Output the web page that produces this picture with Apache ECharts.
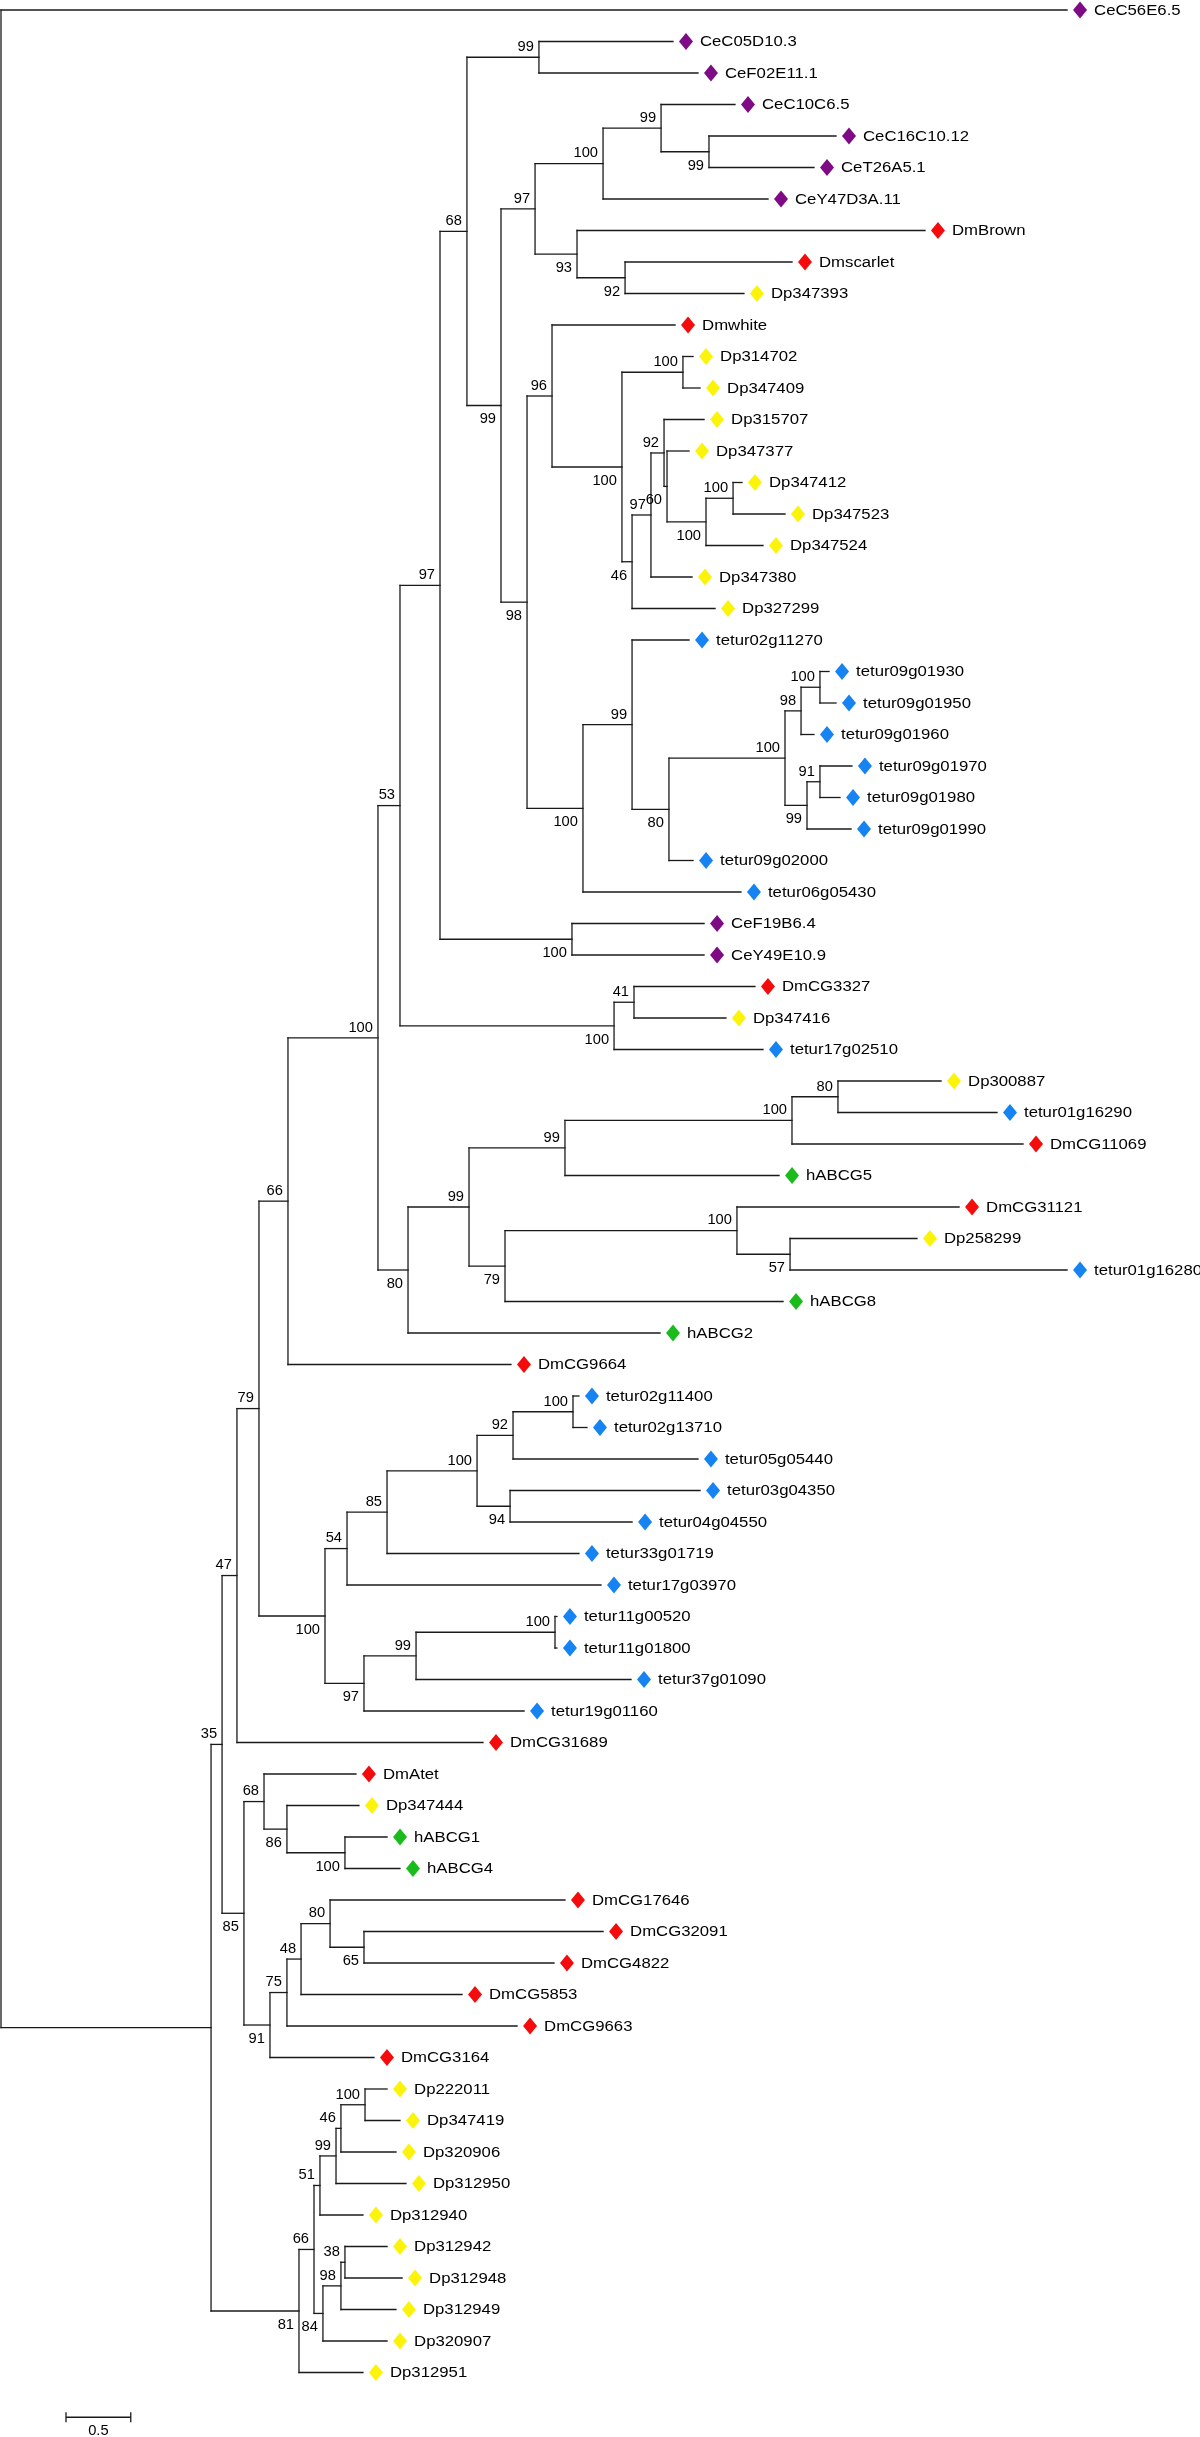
<!DOCTYPE html>
<html>
<head>
<meta charset="utf-8">
<script src="https://cdn.jsdelivr.net/npm/echarts@6/dist/echarts.min.js"></script>
<style>
html,body{margin:0;padding:0;background:#fff;}
#chart{width:1200px;height:2437px;}
</style>
</head>
<body>
<div id="chart"></div>
<script>
// ---- Leaves (tip name and distance from root, in substitutions/site) ----
const leafNames = [
  'CeC56E6.5','CeC05D10.3','CeF02E11.1','CeC10C6.5','CeC16C10.12','CeT26A5.1','CeY47D3A.11',
  'DmBrown','Dmscarlet','Dp347393','Dmwhite','Dp314702','Dp347409','Dp315707','Dp347377',
  'Dp347412','Dp347523','Dp347524','Dp347380','Dp327299','tetur02g11270','tetur09g01930',
  'tetur09g01950','tetur09g01960','tetur09g01970','tetur09g01980','tetur09g01990','tetur09g02000',
  'tetur06g05430','CeF19B6.4','CeY49E10.9','DmCG3327','Dp347416','tetur17g02510','Dp300887',
  'tetur01g16290','DmCG11069','hABCG5','DmCG31121','Dp258299','tetur01g16280','hABCG8','hABCG2',
  'DmCG9664','tetur02g11400','tetur02g13710','tetur05g05440','tetur03g04350','tetur04g04550',
  'tetur33g01719','tetur17g03970','tetur11g00520','tetur11g01800','tetur37g01090','tetur19g01160',
  'DmCG31689','DmAtet','Dp347444','hABCG1','hABCG4','DmCG17646','DmCG32091','DmCG4822',
  'DmCG5853','DmCG9663','DmCG3164','Dp222011','Dp347419','Dp320906','Dp312950','Dp312940',
  'Dp312942','Dp312948','Dp312949','Dp320907','Dp312951'
];
const leafDepths = [
  8.232,5.189,5.382,5.668,6.448,6.278,5.923,
  7.135,6.108,5.737,5.205,5.344,5.398,5.429,5.313,
  5.722,6.054,5.884,5.336,5.514,5.313,6.394,
  6.448,6.278,6.571,6.479,6.564,5.344,
  5.714,5.429,5.429,5.822,5.598,5.884,7.259,
  7.691,7.892,6.008,7.398,7.073,8.232,6.039,5.089,
  3.938,4.463,4.525,5.382,5.398,4.873,
  4.463,4.633,4.293,4.293,4.865,4.039,
  3.722,2.741,2.764,2.981,3.081,4.355,4.649,4.270,
  3.560,3.985,2.880,2.981,3.081,3.050,3.127,2.795,
  2.981,3.097,3.050,2.981,2.795
];

// ---- Internal nodes (clades) ----
const cladeIds = [
  'root','AZ','AY','AX','AM','AL','AC','Z','H','B',
  'A','G','F','E','C','D','J','K','I','L',
  'M','N','O','P','P92','P60','P100a','P100b','Q','R',
  'S','T','U','W','V','X','Y','AA','AB','AD',
  'AE','AF','AH','AI','AG','AJ','AK','AN','AO','AQ',
  'AR','AS','AU','AT','AP','AV','AW','BA','BB','BD',
  'BE','BC','BF','BG','BG80','BG65','BH','BI','BJ','BL',
  'BM','BN','BK','BO','BP'
];
const cladeDepths = [
  0,1.622,1.707,1.822,1.992,2.216,2.911,3.081,3.390,3.598,
  4.154,3.861,4.124,4.649,5.097,5.467,4.448,4.819,4.062,4.255,
  4.795,5.266,4.873,5.019,5.120,5.143,5.444,5.653,4.494,4.873,
  5.158,6.054,6.178,6.324,6.224,6.324,4.409,4.734,4.888,3.143,
  3.614,4.355,6.108,6.463,3.892,5.683,6.093,2.502,2.672,2.981,
  3.676,3.954,4.417,3.931,2.803,3.205,4.278,1.876,2.031,2.208,
  2.656,2.077,2.208,2.317,2.541,2.803,2.301,2.417,2.463,2.587,
  2.625,2.811,2.486,2.625,2.656
];
const cladeSupport = [
  '','','35','47','79','66','100','53','97','68',
  '99','99','97','100','99','99','93','92','98','96',
  '100','100','46','97','92','60','100','100','100','99',
  '80','100','98','100','99','91','100','100','41','80',
  '99','99','100','80','79','100','57','100','54','85',
  '100','92','100','94','97','99','100','85','68','86',
  '100','91','75','48','80','65','81','66','51','99',
  '46','100','84','98','38'
];
const cladeChildren = [
  ['CeC56E6.5','AZ'],['AY','BH'],['AX','BA'],['AM','DmCG31689'],['AL','AN'],
  ['AC','DmCG9664'],['Z','AD'],['H','AA'],['B','Y'],['A','G'],
  ['CeC05D10.3','CeF02E11.1'],['F','I'],['E','J'],['C','CeY47D3A.11'],['CeC10C6.5','D'],
  ['CeC16C10.12','CeT26A5.1'],['DmBrown','K'],['Dmscarlet','Dp347393'],['L','Q'],['Dmwhite','M'],
  ['N','O'],['Dp314702','Dp347409'],['P','Dp327299'],['P92','Dp347380'],['Dp315707','P60'],
  ['Dp347377','P100a'],['P100b','Dp347524'],['Dp347412','Dp347523'],['R','tetur06g05430'],['tetur02g11270','S'],
  ['T','tetur09g02000'],['U','V'],['W','tetur09g01960'],['tetur09g01930','tetur09g01950'],['X','tetur09g01990'],
  ['tetur09g01970','tetur09g01980'],['CeF19B6.4','CeY49E10.9'],['AB','tetur17g02510'],['DmCG3327','Dp347416'],['AE','hABCG2'],
  ['AF','AG'],['AH','hABCG5'],['AI','DmCG11069'],['Dp300887','tetur01g16290'],['AJ','hABCG8'],
  ['DmCG31121','AK'],['Dp258299','tetur01g16280'],['AO','AP'],['AQ','tetur17g03970'],['AR','tetur33g01719'],
  ['AS','AT'],['AU','tetur05g05440'],['tetur02g11400','tetur02g13710'],['tetur03g04350','tetur04g04550'],['AV','tetur19g01160'],
  ['AW','tetur37g01090'],['tetur11g00520','tetur11g01800'],['BB','BC'],['DmAtet','BD'],['Dp347444','BE'],
  ['hABCG1','hABCG4'],['BF','DmCG3164'],['BG','DmCG9663'],['BG80','DmCG5853'],['DmCG17646','BG65'],
  ['DmCG32091','DmCG4822'],['BI','Dp312951'],['BJ','BK'],['BL','Dp312940'],['BM','Dp312950'],
  ['BN','Dp320906'],['Dp222011','Dp347419'],['BO','Dp320907'],['BP','Dp312949'],['Dp312942','Dp312948']
];

// ---- Species groups (name prefix -> marker colour) ----
const groupPrefixes = ['tetur','Ce','Dm','Dp','h'];
const groupColors   = ['#1683f2','#7e0a86','#f40c0c','#fbf40a','#1cbb1c'];

// ---- Scale bar: [start x, row position, length, label] ----
const scaleBar = [0.502, 76.42, 0.5, '0.5'];

// ---------- build tree geometry ----------
const nodes = {};
leafNames.forEach((n, i) => { nodes[n] = { depth: leafDepths[i], children: null }; });
cladeIds.forEach((id, i) => { nodes[id] = { depth: cladeDepths[i], support: cladeSupport[i], children: cladeChildren[i] }; });
Object.keys(nodes).forEach(k => {
  const nd = nodes[k];
  if (nd.children) nd.children.forEach((c, j) => { nodes[c].parent = k; nodes[c].childPos = j; });
});
let leafCounter = 0;
const leafOrder = [];
function layout(name) {
  const nd = nodes[name];
  if (!nd.children) { nd.y = leafCounter++; leafOrder.push(name); return nd.y; }
  const ys = nd.children.map(layout);
  nd.y = (ys[0] + ys[ys.length - 1]) / 2;
  return nd.y;
}
layout('root');

const branchData = [];
const supportData = [];
const supportText = [];
Object.keys(nodes).forEach(k => {
  const nd = nodes[k];
  if (nd.parent) branchData.push([nodes[nd.parent].depth, nd.y, nd.depth, nd.y]);
  if (nd.children) {
    const f = nodes[nd.children[0]], l = nodes[nd.children[nd.children.length - 1]];
    branchData.push([nd.depth, f.y, nd.depth, l.y]);
    if (nd.support) {
      supportData.push([nd.depth, nd.y, nd.childPos === 0 ? 0 : 1]);
      supportText.push(nd.support);
    }
  }
});
const leafData = leafOrder.map(n => [nodes[n].depth, nodes[n].y]);
function colorOf(name) {
  for (let i = 0; i < groupPrefixes.length; i++) if (name.indexOf(groupPrefixes[i]) === 0) return groupColors[i];
  return '#000';
}

const FONT = '"Liberation Sans", Arial, Helvetica, sans-serif';
const chart = echarts.init(document.getElementById('chart'), null, { renderer: 'canvas' });
chart.setOption({
  animation: false,
  backgroundColor: '#ffffff',
  grid: { left: 1, right: 33.5, top: 10, bottom: 1.5 },
  xAxis: { type: 'value', min: 0, max: 9, show: false },
  yAxis: { type: 'value', min: 0, max: 77, inverse: true, show: false },
  series: [
    {
      type: 'custom', clip: false, silent: true,
      data: branchData,
      renderItem: function (params, api) {
        const a = api.coord([api.value(0), api.value(1)]);
        const b = api.coord([api.value(2), api.value(3)]);
        return { type: 'line', shape: { x1: a[0], y1: a[1], x2: b[0], y2: b[1] },
          style: { stroke: '#1a1a1a', lineWidth: 1.3, lineCap: 'square' } };
      }
    },
    {
      type: 'custom', clip: false, silent: true,
      data: leafData,
      renderItem: function (params, api) {
        const p = api.coord([api.value(0), api.value(1)]);
        const name = leafOrder[params.dataIndex];
        const cx = p[0] + 13, cy = p[1];
        return { type: 'group', children: [
          { type: 'polygon', shape: { points: [[cx, cy - 8.5], [cx + 7, cy], [cx, cy + 8.5], [cx - 7, cy]] },
            style: { fill: colorOf(name) } },
          { type: 'text', x: cx + 14, y: cy + 0.5, scaleX: 1.08,
            style: { text: name, fontSize: 15.5, fontFamily: FONT, fill: '#000', align: 'left', verticalAlign: 'middle' } }
        ] };
      }
    },
    {
      type: 'custom', clip: false, silent: true,
      data: supportData,
      renderItem: function (params, api) {
        const p = api.coord([api.value(0), api.value(1)]);
        const below = api.value(2) === 1;
        return { type: 'text', x: p[0] - 5, y: p[1] + (below ? 14 : -10), scaleX: 1.05,
          style: { text: supportText[params.dataIndex], fontSize: 14, fontFamily: FONT, fill: '#000',
            align: 'right', verticalAlign: 'middle' } };
      }
    },
    {
      type: 'custom', clip: false, silent: true,
      data: [scaleBar.slice(0, 3)],
      renderItem: function (params, api) {
        const a = api.coord([api.value(0), api.value(1)]);
        const b = api.coord([api.value(0) + api.value(2), api.value(1)]);
        return { type: 'group', children: [
          { type: 'line', shape: { x1: a[0], y1: a[1], x2: b[0], y2: b[1] }, style: { stroke: '#1a1a1a', lineWidth: 1.3 } },
          { type: 'line', shape: { x1: a[0], y1: a[1] - 5, x2: a[0], y2: a[1] + 5 }, style: { stroke: '#1a1a1a', lineWidth: 1.3 } },
          { type: 'line', shape: { x1: b[0], y1: b[1] - 5, x2: b[0], y2: b[1] + 5 }, style: { stroke: '#1a1a1a', lineWidth: 1.3 } },
          { type: 'text', x: (a[0] + b[0]) / 2, y: a[1] + 14, scaleX: 1.05,
            style: { text: scaleBar[3], fontSize: 14, fontFamily: FONT, fill: '#000', align: 'center', verticalAlign: 'middle' } }
        ] };
      }
    }
  ]
});
</script>
</body>
</html>
